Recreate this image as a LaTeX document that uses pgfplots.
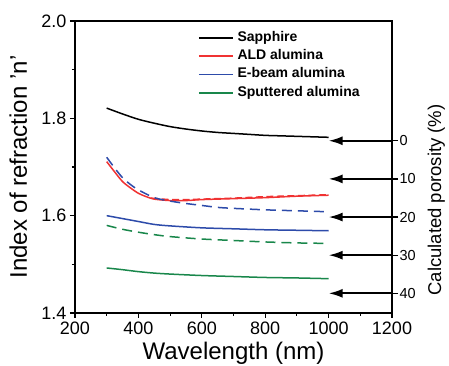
\documentclass[border=0pt]{standalone}
\usepackage{pgfplots}
\pgfplotsset{compat=1.18}
\usetikzlibrary{arrows.meta}
\usepackage{fontspec}
\setmainfont{Liberation Sans}
\definecolor{cred}{RGB}{240,50,50}
\definecolor{cblue}{RGB}{45,75,170}
\definecolor{cgreen}{RGB}{25,135,75}
\begin{document}
\begin{tikzpicture}
\begin{axis}[name=main,
  scale only axis, width=317pt, height=292pt,
  xmin=200, xmax=1200, ymin=1.4, ymax=2.0,
  xtick={200,400,...,1200}, ytick={1.4,1.6,1.8,2.0},
  minor x tick num=1, minor y tick num=1,
  xtick pos=bottom, ytick pos=left,
  tick align=outside,
  major tick length=5pt, minor tick length=3pt,
  axis line style={line width=1.2pt},
  every tick/.style={black, line width=1.1pt},
  /pgf/number format/assume math mode=true,
  yticklabel style={/pgf/number format/fixed, /pgf/number format/fixed zerofill, /pgf/number format/precision=1},
  xticklabel style={/pgf/number format/set thousands separator={}},
  tick label style={font=\fontsize{18}{21}\selectfont},
  xlabel={Wavelength (nm)},
  ylabel={Index of refraction 'n'},
  every axis x label/.style={at={(rel axis cs:0.5,0)}, yshift=-47pt, anchor=base, font=\fontsize{24}{28}\selectfont},
  every axis y label/.style={at={(rel axis cs:0,0.5)}, xshift=-48pt, rotate=90, anchor=base, font=\fontsize{24}{28}\selectfont},
  legend style={at={(rel axis cs:0.378,0.981)}, anchor=north west, draw=none, fill=none,
    font=\fontsize{14}{16}\selectfont\bfseries, row sep=0pt, column sep=4pt,
    nodes={inner sep=0pt, text height=12.5pt, text depth=5.8pt}},
  legend cell align=left,
  legend image code/.code={\draw[#1] (0pt,0pt) -- (34pt,0pt);},
  every axis plot/.append style={line width=1.5pt},
]
\addplot[black, smooth] coordinates {(300,1.821) (350,1.809) (400,1.798) (450,1.790) (500,1.783) (550,1.778) (600,1.774) (650,1.771) (700,1.769) (750,1.767) (800,1.765) (850,1.764) (900,1.763) (950,1.762) (1000,1.761)};
\addlegendentry{Sapphire}
\addplot[cred, smooth] coordinates {(300,1.711) (325,1.690) (350,1.670) (375,1.657) (400,1.646) (425,1.639) (450,1.634) (500,1.631) (550,1.631) (600,1.633) (700,1.635) (800,1.637) (900,1.640) (1000,1.642)};
\addlegendentry{ALD alumina}
\addplot[cblue, smooth] coordinates {(300,1.600) (350,1.594) (400,1.588) (450,1.582) (500,1.579) (600,1.575) (700,1.573) (800,1.571) (900,1.570) (1000,1.569)};
\addlegendentry{E-beam alumina}
\addplot[cgreen, smooth] coordinates {(300,1.4925) (350,1.489) (400,1.485) (450,1.482) (500,1.480) (600,1.477) (700,1.475) (800,1.473) (900,1.472) (1000,1.4705)};
\addlegendentry{Sputtered alumina}
\addplot[cred, dash pattern=on 7pt off 3.5pt, smooth, forget plot] coordinates {(440,1.636) (500,1.633) (550,1.633) (600,1.634) (700,1.636) (800,1.639) (900,1.641) (1000,1.643)};
\addplot[cblue, dash pattern=on 10pt off 6pt, smooth, forget plot] coordinates {(300,1.720) (325,1.698) (350,1.678) (375,1.664) (400,1.653) (450,1.637) (500,1.630) (550,1.625) (600,1.621) (650,1.617) (700,1.615) (800,1.612) (900,1.610) (1000,1.608)};
\addplot[cgreen, dash pattern=on 10pt off 6pt, smooth, forget plot] coordinates {(300,1.580) (350,1.572) (400,1.566) (450,1.561) (500,1.557) (600,1.552) (700,1.549) (800,1.546) (900,1.544) (1000,1.543)};
\end{axis}
\begin{axis}[
  scale only axis, width=317pt, height=292pt,
  xmin=200, xmax=1200, ymin=-31.4, ymax=45.16, y dir=reverse,
  axis x line=none, axis y line*=right,
  ytick={0,10,20,30,40}, tick align=outside, major tick length=6pt,
  axis line style={line width=1.2pt, -},
  every tick/.style={black, line width=1.2pt},
  /pgf/number format/assume math mode=true,
  yticklabel style={font=\fontsize{14.5}{17}\selectfont, xshift=-2pt},
  ylabel={Calculated porosity (\%)},
  every axis y label/.style={at={(rel axis cs:1,0.387)}, xshift=49pt, rotate=90, anchor=base, font=\fontsize{18.5}{22}\selectfont},
  clip=false,
]
\addplot[black, line width=2pt, -{Latex[length=14pt,width=9pt]}] coordinates {(1200,0) (1000,0)};
\addplot[black, line width=2pt, -{Latex[length=14pt,width=9pt]}] coordinates {(1200,10) (1000,10)};
\addplot[black, line width=2pt, -{Latex[length=14pt,width=9pt]}] coordinates {(1200,20) (1000,20)};
\addplot[black, line width=2pt, -{Latex[length=14pt,width=9pt]}] coordinates {(1200,30) (1000,30)};
\addplot[black, line width=2pt, -{Latex[length=14pt,width=9pt]}] coordinates {(1200,40) (1000,40)};
\end{axis}
\pgfresetboundingbox
\path[use as bounding box] ([shift={(-75pt,-53pt)}]main.south west) rectangle ([shift={(57pt,21pt)}]main.north east);
\end{tikzpicture}
\end{document}
